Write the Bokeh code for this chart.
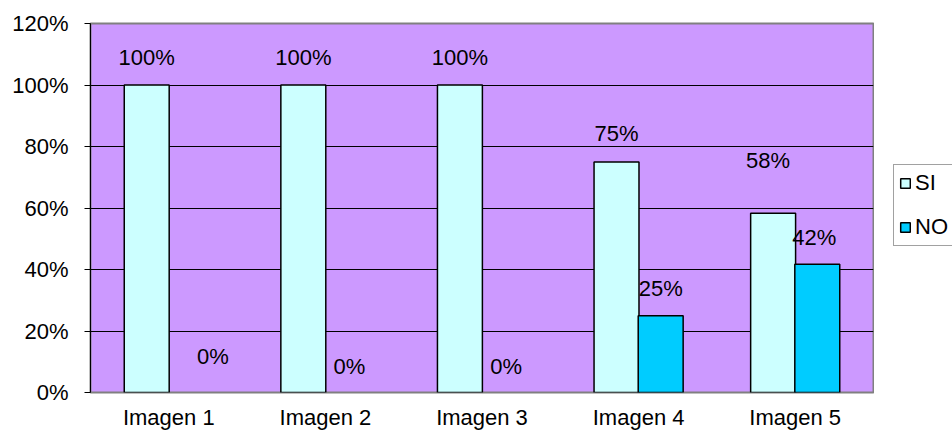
from bokeh.plotting import figure
from bokeh.models import ColumnDataSource, FixedTicker, NumeralTickFormatter, LabelSet, Range1d, Legend, LegendItem
from bokeh.transform import dodge
from bokeh.core.properties import value
from bokeh.layouts import row
from bokeh.embed import file_html
from bokeh.resources import INLINE

categories = ["Imagen 1", "Imagen 2", "Imagen 3", "Imagen 4", "Imagen 5"]
si_values = [1.00, 1.00, 1.00, 0.75, 0.583]
no_values = [0.00, 0.00, 0.00, 0.25, 0.417]
y_ticks = [0.0, 0.2, 0.4, 0.6, 0.8, 1.0, 1.2]
series_names = ["SI", "NO"]

# label styling offsets (pixels)
si_label_dx = [0, 0, 0, 0, -5]
si_label_dy = [28, 28, 28, 28, 53]
no_label_dx = [22, 2, 2, 0, -3]
no_label_dy = [36, 26, 26, 27, 27]

FONT = "Liberation Sans"
FS = "22px"
BAR_W = 0.287
OFF = 0.141
SI_COLOR = "#CCFFFF"
NO_COLOR = "#00CCFF"

src = ColumnDataSource(dict(
    cat=categories,
    si=si_values,
    no=no_values,
    si_line=[1 if v > 0 else 0 for v in si_values],
    no_line=[1 if v > 0 else 0 for v in no_values],
    si_txt=[f"{round(v*100):d}%" for v in si_values],
    no_txt=[f"{round(v*100):d}%" for v in no_values],
    si_dx=si_label_dx, si_dy=si_label_dy,
    no_dx=no_label_dx, no_dy=no_label_dy,
))

p = figure(x_range=categories, y_range=Range1d(0, 1.2), width=874, height=440,
           output_backend="svg", toolbar_location=None,
           min_border_left=90, min_border_right=1, min_border_top=23, min_border_bottom=48)

p.background_fill_color = "#CC99FF"
p.border_fill_color = "white"
p.outline_line_color = "#808080"
p.outline_line_width = 2

p.vbar(x=dodge("cat", -OFF, range=p.x_range), top="si", width=BAR_W, source=src,
       fill_color=SI_COLOR, line_color="black", line_alpha="si_line", line_width=1.5)
p.vbar(x=dodge("cat", OFF, range=p.x_range), top="no", width=BAR_W, source=src,
       fill_color=NO_COLOR, line_color="black", line_alpha="no_line", line_width=1.5)

for col, txt, dx, dy, off in [("si", "si_txt", "si_dx", "si_dy", -OFF), ("no", "no_txt", "no_dx", "no_dy", OFF)]:
    ls = LabelSet(x=dodge("cat", off, range=p.x_range), y=col, text=txt, source=src,
                  x_offset=dx, y_offset=dy, text_align="center", text_baseline="middle",
                  text_font=value(FONT), text_font_size=value(FS), text_color="black")
    p.add_layout(ls)

p.xgrid.grid_line_color = None
p.ygrid.grid_line_color = "black"
p.ygrid.grid_line_width = 1
p.ygrid.ticker = FixedTicker(ticks=y_ticks)

p.yaxis.ticker = FixedTicker(ticks=y_ticks)
p.yaxis.formatter = NumeralTickFormatter(format="0%")
p.yaxis.axis_line_color = "black"
p.yaxis.major_tick_line_color = "black"
p.yaxis.major_tick_out = 6
p.yaxis.major_tick_in = 0
p.yaxis.minor_tick_line_color = None
p.yaxis.major_label_standoff = 16
p.yaxis.major_label_text_font = FONT
p.yaxis.major_label_text_font_size = FS
p.yaxis.major_label_text_color = "black"

p.xaxis.axis_line_color = None
p.xaxis.major_tick_line_color = None
p.xaxis.minor_tick_line_color = None
p.xaxis.major_label_standoff = 6
p.xaxis.major_label_text_font = FONT
p.xaxis.major_label_text_font_size = FS
p.xaxis.major_label_text_color = "black"

# legend panel: hidden series renderers, only the legend is shown
p2 = figure(x_range=categories, y_range=Range1d(0, 1.2), width=78, height=440,
            output_backend="svg", toolbar_location=None,
            x_axis_type=None, y_axis_type=None, min_border=0)
p2.grid.visible = False
p2.outline_line_color = None
p2.background_fill_color = "white"
p2.border_fill_color = "white"
l_si = p2.vbar(x="cat", top="si", width=BAR_W, source=src, fill_color=SI_COLOR, line_color="black", line_width=1.5)
l_no = p2.vbar(x="cat", top="no", width=BAR_W, source=src, fill_color=NO_COLOR, line_color="black", line_width=1.5)
l_si.visible = False
l_no.visible = False

lg = Legend(items=[LegendItem(label=series_names[0], renderers=[l_si]),
                   LegendItem(label=series_names[1], renderers=[l_no])])
lg.location = (19, 146)
lg.orientation = "vertical"
lg.click_policy = "none"
lg.inactive_fill_alpha = 0
lg.background_fill_color = "white"
lg.background_fill_alpha = 1
lg.border_line_color = "#444444"
lg.border_line_width = 1
lg.glyph_width = 12
lg.glyph_height = 12
lg.label_standoff = 4
lg.label_height = 26
lg.spacing = 18
lg.padding = 5
lg.margin = 0
lg.label_text_font = FONT
lg.label_text_font_size = FS
lg.label_text_color = "black"
p2.add_layout(lg, "center")

layout = row(p, p2)
open("out.html", "w").write(file_html(layout, INLINE))
